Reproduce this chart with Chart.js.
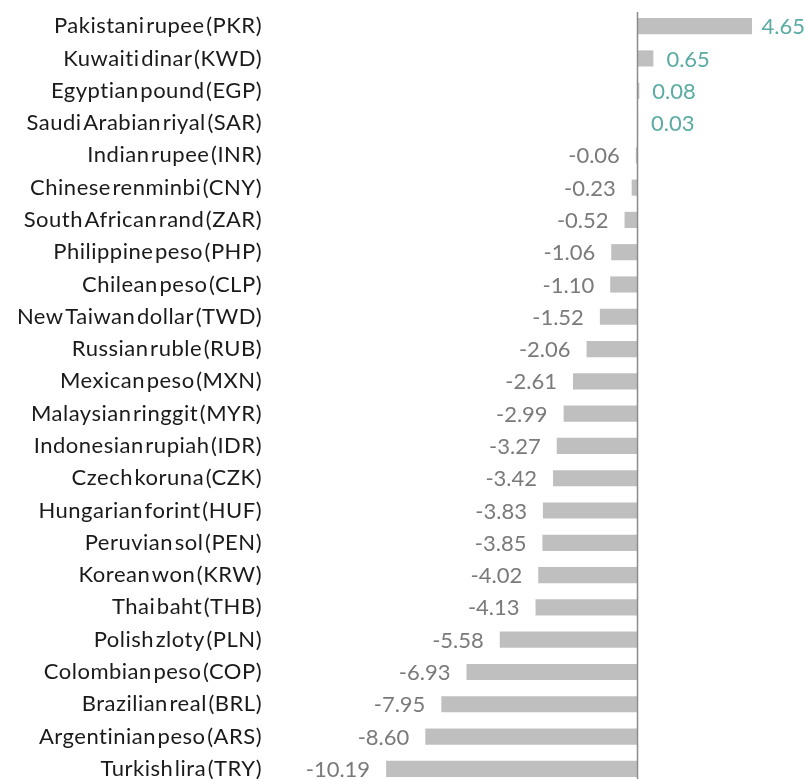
<!DOCTYPE html>
<html>
<head>
<meta charset="utf-8">
<script src="https://cdn.jsdelivr.net/npm/chart.js@4"></script>
<style>
    html, body { margin: 0; padding: 0; background: #fff; overflow: hidden; }
    #wrap { position: relative; width: 805px; height: 786px; }
</style>
</head>
<body>
<div id="wrap"><canvas id="fx-chart"></canvas></div>
<script>
const currencies = [
    'Pakistani rupee (PKR)', 'Kuwaiti dinar (KWD)', 'Egyptian pound (EGP)', 'Saudi Arabian riyal (SAR)',
    'Indian rupee (INR)', 'Chinese renminbi (CNY)', 'South African rand (ZAR)', 'Philippine peso (PHP)',
    'Chilean peso (CLP)', 'New Taiwan dollar (TWD)', 'Russian ruble (RUB)', 'Mexican peso (MXN)',
    'Malaysian ringgit (MYR)', 'Indonesian rupiah (IDR)', 'Czech koruna (CZK)', 'Hungarian forint (HUF)',
    'Peruvian sol (PEN)', 'Korean won (KRW)', 'Thai baht (THB)', 'Polish zloty (PLN)',
    'Colombian peso (COP)', 'Brazilian real (BRL)', 'Argentinian peso (ARS)', 'Turkish lira (TRY)'
];
const changes = [
    4.65, 0.65, 0.08, 0.03,
    -0.06, -0.23, -0.52, -1.06,
    -1.10, -1.52, -2.06, -2.61,
    -2.99, -3.27, -3.42, -3.83,
    -3.85, -4.02, -4.13, -5.58,
    -6.93, -7.95, -8.60, -10.19
];

// value labels: negatives sit left of the bar end, positives to the right
const valueLabels = {
    id: 'valueLabels',
    afterDatasetsDraw(chart) {
        const ctx = chart.ctx;
        const meta = chart.getDatasetMeta(0);
        const area = chart.chartArea;
        ctx.save();
        ctx.font = '22px Lato';
        ctx.wordSpacing = '0px';
        ctx.letterSpacing = '0px';
        ctx.textBaseline = 'middle';
        meta.data.forEach((bar, i) => {
            const v = changes[i];
            const text = v.toFixed(2);
            if (v < 0) {
                ctx.fillStyle = '#7a7a7a';
                ctx.textAlign = 'right';
                ctx.fillText(text, bar.x - 16, bar.y + 1);
            } else {
                ctx.fillStyle = '#5aaba3';
                ctx.textAlign = 'left';
                const w = ctx.measureText(text).width;
                ctx.fillText(text, Math.min(bar.x + 13, area.right - w), bar.y + 1);
            }
        });
        ctx.restore();
    }
};

// zero line drawn over the bars
const zeroLine = {
    id: 'zeroLine',
    afterDatasetsDraw(chart) {
        const ctx = chart.ctx;
        const x = Math.round(chart.scales.x.getPixelForValue(0)) + 0.5;
        ctx.save();
        ctx.strokeStyle = '#8c8c8c';
        ctx.lineWidth = 1.5;
        ctx.beginPath();
        ctx.moveTo(x, 12);
        ctx.lineTo(x, chart.height);
        ctx.stroke();
        ctx.restore();
    }
};

// tighter word gaps, slightly looser letters in the category labels
const tightWords = {
    id: 'tightWords',
    beforeDraw(chart) {
        chart.ctx.wordSpacing = '-4.5px';
        chart.ctx.letterSpacing = '0.5px';
    }
};

new Chart(document.getElementById('fx-chart'), {
    type: 'bar',
    data: {
        labels: currencies,
        datasets: [{
            data: changes,
            backgroundColor: '#bfbfbf',
            barPercentage: 0.5,
            categoryPercentage: 1
        }]
    },
    options: {
        indexAxis: 'y',
        responsive: true,
        maintainAspectRatio: false,
        animation: false,
        layout: { padding: { top: 10, bottom: 1, left: 0, right: 0 } },
        plugins: {
            legend: { display: false },
            tooltip: { enabled: false }
        },
        scales: {
            x: {
                min: -14.9,
                max: 6.8,
                display: false,
                grid: { display: false }
            },
            y: {
                afterFit(scale) {
                    scale.width = 270;
                    scale.paddingTop = 0;
                    scale.paddingBottom = 0;
                },
                grid: { display: false, drawTicks: false },
                border: { display: false },
                ticks: {
                    color: '#1a1a1a',
                    font: { family: 'Lato', size: 22 },
                    padding: 8,
                    autoSkip: false
                }
            }
        }
    },
    plugins: [tightWords, zeroLine, valueLabels]
});
</script>
</body>
</html>
